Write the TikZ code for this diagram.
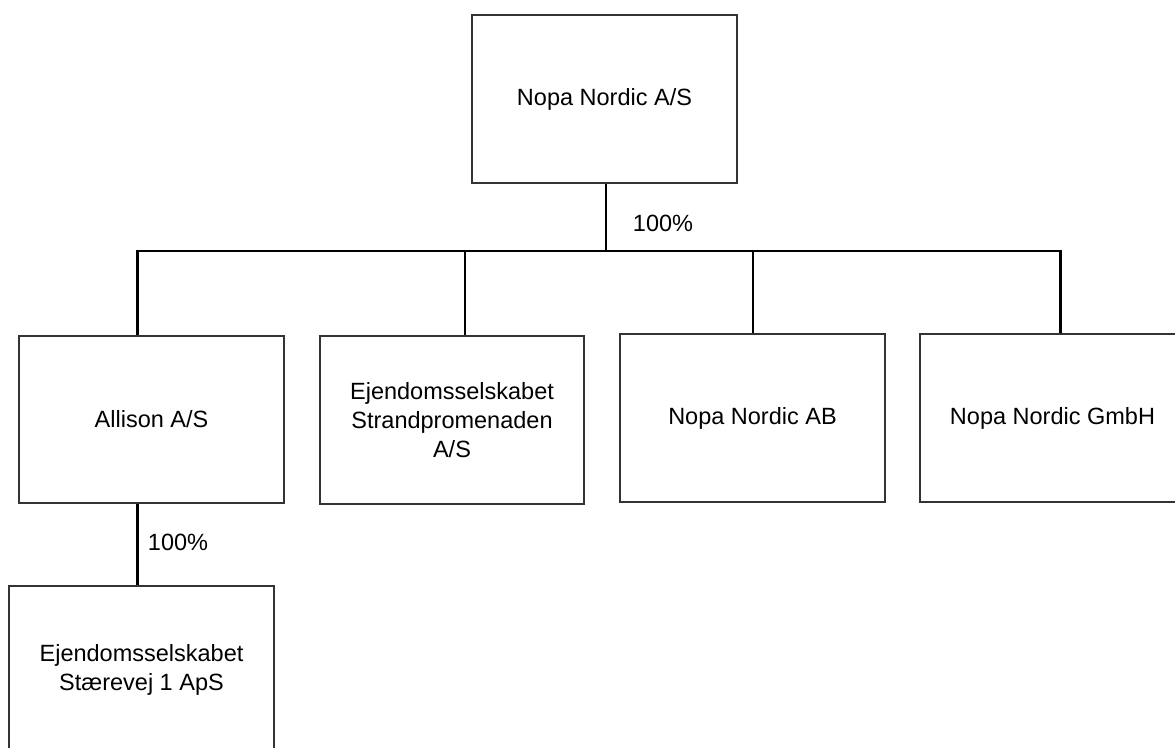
\documentclass[tikz,border=0pt]{standalone}
\usepackage{fontspec}
\setmainfont{Liberation Sans}
\definecolor{boxline}{HTML}{333333}
\tikzset{
  orgbox/.style={draw=boxline, line width=1.3pt, rectangle, minimum width=265pt, minimum height=168pt, inner sep=0pt, align=center, font=\fontsize{23.5}{29}\selectfont, text=black},
  conn/.style={draw=black, line width=2.2pt},
  pct/.style={font=\fontsize{23.5}{29}\selectfont, text=black, inner sep=0pt}
}
\begin{document}
\begin{tikzpicture}[x=1pt,y=-1pt]
\useasboundingbox (0,0) rectangle (1175,747);
\begin{scope}
\clip (0,0) rectangle (1175,747);
\node[orgbox] (top) at (604.5,99) {Nopa Nordic A/S};
\node[orgbox, minimum height=167pt] (allison) at (151.5,419.5) {Allison A/S};
\node[orgbox, minimum width=264pt] (strand) at (452,420) {Ejendomsselskabet\\Strandpromenaden\\A/S};
\node[orgbox] (ab) at (752.5,418) {Nopa Nordic AB};
\node[orgbox] (gmbh) at (1052.5,418) {Nopa Nordic GmbH};
\node[orgbox] (staer) at (141.5,670) {Ejendomsselskabet\\St\ae revej 1 ApS};

\coordinate (busL) at (137.5,251);
\coordinate (busR) at (1060.5,251);
\coordinate (j2) at (465,251);
\coordinate (j3) at (753,251);

\draw[conn] (top.south -| 606,0) -- (606,251);
\draw[conn, line cap=rect] (busL) -- (busR);
\draw[conn] (busL) -- (allison.north -| busL);
\draw[conn] (j2) -- (strand.north -| j2);
\draw[conn] (j3) -- (ab.north -| j3);
\draw[conn] (busR) -- (gmbh.north -| busR);
\draw[conn] (allison.south -| busL) -- (staer.north -| busL);

\node[pct] (p1) at (663,223) {100\%};
\node[pct] (p2) at (178,542) {100\%};
\end{scope}
\end{tikzpicture}
\end{document}
